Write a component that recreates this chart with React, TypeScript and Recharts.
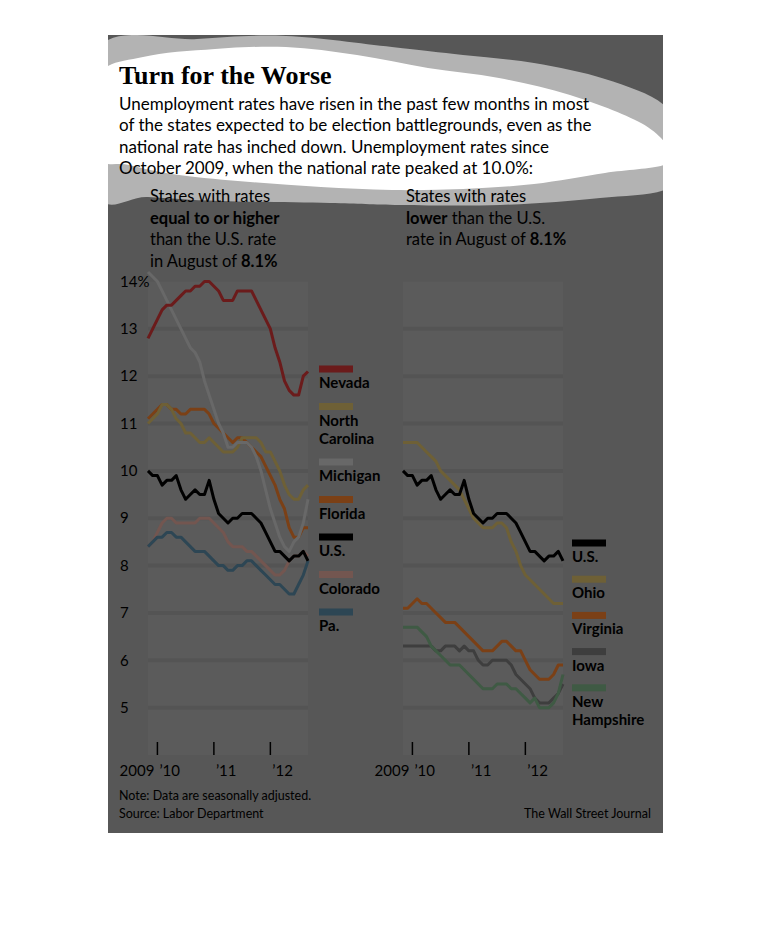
import React from "react";
import { LineChart, Line, XAxis, YAxis, ReferenceArea, ReferenceLine } from "recharts";

// Monthly, seasonally adjusted unemployment rates, Oct 2009 - Aug 2012
const months = [
  "Oct 2009", "Nov 2009", "Dec 2009",
  "Jan 2010", "Feb 2010", "Mar 2010", "Apr 2010", "May 2010", "Jun 2010",
  "Jul 2010", "Aug 2010", "Sep 2010", "Oct 2010", "Nov 2010", "Dec 2010",
  "Jan 2011", "Feb 2011", "Mar 2011", "Apr 2011", "May 2011", "Jun 2011",
  "Jul 2011", "Aug 2011", "Sep 2011", "Oct 2011", "Nov 2011", "Dec 2011",
  "Jan 2012", "Feb 2012", "Mar 2012", "Apr 2012", "May 2012", "Jun 2012",
  "Jul 2012", "Aug 2012",
];

const nevada = [12.8, 13.0, 13.2, 13.4, 13.5, 13.5, 13.6, 13.7, 13.8, 13.8, 13.9, 13.9, 14.0, 14.0, 13.9, 13.8, 13.6, 13.6, 13.6, 13.8, 13.8, 13.8, 13.8, 13.6, 13.4, 13.2, 13.0, 12.6, 12.3, 11.9, 11.7, 11.6, 11.6, 12.0, 12.1];
const northCarolina = [11.0, 11.1, 11.2, 11.4, 11.4, 11.3, 11.1, 11.0, 10.8, 10.8, 10.7, 10.6, 10.6, 10.7, 10.6, 10.5, 10.4, 10.4, 10.4, 10.5, 10.7, 10.7, 10.7, 10.7, 10.6, 10.4, 10.4, 10.2, 10.0, 9.7, 9.5, 9.4, 9.4, 9.6, 9.7];
const michigan = [14.2, 14.1, 14.0, 13.8, 13.6, 13.4, 13.2, 13.0, 12.8, 12.6, 12.5, 12.3, 11.9, 11.6, 11.3, 11.0, 10.8, 10.5, 10.5, 10.6, 10.6, 10.6, 10.5, 10.3, 10.0, 9.6, 9.2, 8.9, 8.6, 8.4, 8.3, 8.5, 8.6, 8.9, 9.4];
const florida = [11.1, 11.2, 11.3, 11.4, 11.4, 11.3, 11.3, 11.2, 11.2, 11.3, 11.3, 11.3, 11.3, 11.2, 11.0, 10.9, 10.8, 10.7, 10.6, 10.7, 10.7, 10.6, 10.5, 10.4, 10.3, 10.1, 9.9, 9.7, 9.4, 9.2, 8.8, 8.6, 8.6, 8.8, 8.8];
const us = [10.0, 9.9, 9.9, 9.7, 9.8, 9.8, 9.9, 9.6, 9.4, 9.5, 9.6, 9.5, 9.5, 9.8, 9.4, 9.1, 9.0, 8.9, 9.0, 9.0, 9.1, 9.1, 9.1, 9.0, 8.9, 8.7, 8.5, 8.3, 8.3, 8.2, 8.1, 8.2, 8.2, 8.3, 8.1];
const colorado = [8.4, 8.5, 8.7, 8.9, 9.0, 9.0, 8.9, 8.9, 8.9, 8.9, 8.9, 9.0, 9.0, 9.0, 8.9, 8.8, 8.7, 8.5, 8.4, 8.4, 8.4, 8.3, 8.3, 8.2, 8.1, 8.0, 7.9, 7.8, 7.8, 7.9, 8.1, 8.2, 8.2, 8.3, 8.2];
const pennsylvania = [8.4, 8.5, 8.6, 8.6, 8.7, 8.7, 8.6, 8.6, 8.5, 8.4, 8.3, 8.3, 8.3, 8.2, 8.1, 8.0, 8.0, 7.9, 7.9, 8.0, 8.0, 8.1, 8.1, 8.0, 7.9, 7.8, 7.7, 7.6, 7.6, 7.5, 7.4, 7.4, 7.6, 7.8, 8.1];
const ohio = [10.6, 10.6, 10.6, 10.6, 10.5, 10.4, 10.3, 10.2, 10.0, 9.9, 9.8, 9.7, 9.6, 9.4, 9.2, 9.0, 8.9, 8.8, 8.8, 8.8, 8.9, 8.9, 8.8, 8.5, 8.3, 8.0, 7.8, 7.7, 7.6, 7.5, 7.4, 7.3, 7.2, 7.2, 7.2];
const virginia = [7.1, 7.1, 7.2, 7.3, 7.2, 7.2, 7.1, 7.0, 6.9, 6.8, 6.8, 6.8, 6.7, 6.6, 6.5, 6.4, 6.3, 6.2, 6.2, 6.2, 6.3, 6.4, 6.4, 6.3, 6.2, 6.2, 6.0, 5.8, 5.7, 5.6, 5.6, 5.6, 5.7, 5.9, 5.9];
const iowa = [6.3, 6.3, 6.3, 6.3, 6.3, 6.3, 6.3, 6.2, 6.2, 6.3, 6.3, 6.3, 6.2, 6.3, 6.2, 6.2, 6.0, 5.9, 5.9, 6.0, 6.0, 6.0, 6.0, 5.9, 5.7, 5.6, 5.5, 5.4, 5.2, 5.1, 5.1, 5.1, 5.2, 5.3, 5.5];
const newHampshire = [6.7, 6.7, 6.7, 6.7, 6.6, 6.5, 6.3, 6.2, 6.1, 6.0, 5.9, 5.9, 5.9, 5.8, 5.7, 5.6, 5.5, 5.4, 5.4, 5.4, 5.5, 5.5, 5.5, 5.4, 5.4, 5.3, 5.2, 5.1, 5.2, 5.0, 5.0, 5.0, 5.1, 5.3, 5.7];

const yTicks = [5, 6, 7, 8, 9, 10, 11, 12, 13, 14];
const gridValues = [5, 6, 7, 8, 9, 10, 11, 12, 13];
const xTickIdx = [2, 14, 26];
const xTickLabels = ["\u201910", "\u201911", "\u201912"];

const rows = months.map((month, i) => ({
  i,
  month,
  nevada: nevada[i],
  northCarolina: northCarolina[i],
  michigan: michigan[i],
  florida: florida[i],
  us: us[i],
  colorado: colorado[i],
  pennsylvania: pennsylvania[i],
  ohio: ohio[i],
  virginia: virginia[i],
  iowa: iowa[i],
  newHampshire: newHampshire[i],
}));

const C = {
  nevada: "#6b1b1b",
  olive: "#6e6036",
  michigan: "#686868",
  orange: "#7b4016",
  us: "#000000",
  colorado: "#735650",
  pa: "#2d4654",
  iowa: "#3e3e3e",
  nh: "#3f5a44",
};

type Series = { key: string; name: string[]; color: string };

// draw order (last on top)
const leftLines: Series[] = [
  { key: "colorado", name: ["Colorado"], color: C.colorado },
  { key: "pennsylvania", name: ["Pa."], color: C.pa },
  { key: "florida", name: ["Florida"], color: C.orange },
  { key: "northCarolina", name: ["North", "Carolina"], color: C.olive },
  { key: "michigan", name: ["Michigan"], color: C.michigan },
  { key: "nevada", name: ["Nevada"], color: C.nevada },
  { key: "us", name: ["U.S."], color: C.us },
];
const leftLegend = ["nevada", "northCarolina", "michigan", "florida", "us", "colorado", "pennsylvania"];

const rightLines: Series[] = [
  { key: "iowa", name: ["Iowa"], color: C.iowa },
  { key: "newHampshire", name: ["New", "Hampshire"], color: C.nh },
  { key: "virginia", name: ["Virginia"], color: C.orange },
  { key: "ohio", name: ["Ohio"], color: C.olive },
  { key: "us", name: ["U.S."], color: C.us },
];
const rightLegend = ["us", "ohio", "virginia", "iowa", "newHampshire"];

const SANS = "Lato, 'Noto Sans', sans-serif";

function smoothPath(pts: number[][]) {
  const n = pts.length;
  let d = `M${pts[0][0]},${pts[0][1]}`;
  for (let k = 0; k < n; k++) {
    const p0 = pts[(k - 1 + n) % n];
    const p1 = pts[k];
    const p2 = pts[(k + 1) % n];
    const p3 = pts[(k + 2) % n];
    const c1 = [p1[0] + (p2[0] - p0[0]) / 6, p1[1] + (p2[1] - p0[1]) / 6];
    const c2 = [p2[0] - (p3[0] - p1[0]) / 6, p2[1] - (p3[1] - p1[1]) / 6];
    d += ` C${c1[0]},${c1[1]} ${c2[0]},${c2[1]} ${p2[0]},${p2[1]}`;
  }
  return d + " Z";
}

// highlight blob behind the headline (card coordinates)
const blobOuter = [
  [-10, 14], [89, 4], [178, 1], [284, 12], [355, 20], [426, 28], [497, 44], [556, 70],
  [570, 110], [562, 152], [492, 163], [392, 170], [292, 170], [222, 168], [112, 166], [40, 162], [-10, 158],
];
const blobInner = [
  [-10, 42], [35, 22], [107, 14], [178, 12], [249, 20], [320, 33], [391, 43], [462, 60],
  [533, 88], [562, 115], [556, 130], [497, 138], [426, 149], [355, 154], [284, 155], [213, 152],
  [142, 147], [71, 140], [21, 130], [-10, 120],
];

const YTick = (props: any) => {
  const { x, y, payload } = props;
  return (
    <text x={x - 28} y={y} dy="0.35em" textAnchor="start" fontFamily={SANS} fontSize={15} fill="#000">
      {payload.value === 14 ? "14%" : payload.value}
    </text>
  );
};

const XTick = (props: any) => {
  const { x, y, payload } = props;
  const idx = xTickIdx.indexOf(payload.value);
  return (
    <g>
      <line x1={x} x2={x} y1={y - 13} y2={y} stroke="#000" strokeWidth={1.5} />
      {idx === 0 && (
        <text x={x - 3} y={y + 21} textAnchor="end" fontFamily={SANS} fontSize={15} fill="#000">
          2009
        </text>
      )}
      <text x={x + 2} y={y + 21} textAnchor="start" fontFamily={SANS} fontSize={15} fill="#000">
        {xTickLabels[idx]}
      </text>
    </g>
  );
};

function Panel({ lines, showY }: { lines: Series[]; showY: boolean }) {
  return (
    <LineChart
      width={260}
      height={523}
      data={rows}
      margin={{ top: 5, right: 60, bottom: 5, left: showY ? 0 : 40 }}
    >
      <XAxis
        type="number"
        dataKey="i"
        domain={[0, 34]}
        ticks={xTickIdx}
        interval={0}
        height={30}
        axisLine={false}
        tickLine={false}
        tickSize={0}
        tickMargin={0}
        tick={<XTick />}
      />
      <YAxis
        type="number"
        domain={[4, 14.2]}
        ticks={yTicks}
        interval={0}
        width={40}
        hide={!showY}
        axisLine={false}
        tickLine={false}
        tickSize={0}
        tickMargin={0}
        tick={<YTick />}
      />
      <ReferenceArea y1={4} y2={14} fill="#5b5b5b" fillOpacity={1} stroke="none" />
      {gridValues.map((v) => (
        <ReferenceLine key={v} y={v} stroke="#545454" strokeWidth={4} />
      ))}
      {lines.map((s) => (
        <Line
          key={s.key}
          type="linear"
          dataKey={s.key}
          stroke={s.color}
          strokeWidth={3}
          strokeLinejoin="round"
          dot={false}
          activeDot={false}
          isAnimationActive={false}
        />
      ))}
    </LineChart>
  );
}

function LegendBlock({ lines, order, x, y0, step }: { lines: Series[]; order: string[]; x: number; y0: number; step: number }) {
  let y = y0;
  const items = order.map((key) => {
    const s = lines.find((l) => l.key === key)!;
    const g = (
      <g key={key}>
        <rect x={x} y={y - 3.5} width={34} height={7} fill={s.color} />
        {s.name.map((t, k) => (
          <text key={t} x={x} y={y + 19 + k * 18} fontFamily={SANS} fontWeight={700} fontSize={15} fill="#000">
            {t}
          </text>
        ))}
      </g>
    );
    y += step + (s.name.length - 1) * 18;
    return g;
  });
  return <g>{items}</g>;
}

const body = [
  "Unemployment rates have risen in the past few months in most",
  "of the states expected to be election battlegrounds, even as the",
  "national rate has inched down. Unemployment rates since",
  "October 2009, when the national rate peaked at 10.0%:",
];

export default function App() {
  return (
    <div
      style={{
        position: "absolute",
        left: 108,
        top: 35,
        width: 555,
        height: 798,
        background: "#575757",
        overflow: "hidden",
      }}
    >
      <svg width={555} height={798} style={{ position: "absolute", left: 0, top: 0 }}>
        <path d={smoothPath(blobOuter)} fill="#b3b3b3" />
        <path d={smoothPath(blobInner)} fill="#ffffff" />
      </svg>

      <div style={{ position: "absolute", left: 0, top: 232 }}>
        <Panel lines={leftLines} showY={true} />
      </div>
      <div style={{ position: "absolute", left: 255, top: 232 }}>
        <Panel lines={rightLines} showY={false} />
      </div>

      <svg width={555} height={798} style={{ position: "absolute", left: 0, top: 0, pointerEvents: "none" }}>
        <text x={11} y={49} fontFamily="'Liberation Serif', serif" fontWeight={700} fontSize={26} fill="#000">
          Turn for the Worse
        </text>
        {body.map((t, k) => (
          <text key={k} x={11} y={74.5 + k * 21.5} fontFamily={SANS} fontSize={17} fill="#000">
            {t}
          </text>
        ))}

        <g fontFamily={SANS} fontSize={16.5} fill="#000">
          <text x={42} y={167}>States with rates</text>
          <text x={42} y={188.5} fontWeight={700}>equal to or higher</text>
          <text x={42} y={210}>than the U.S. rate</text>
          <text x={42} y={231.5}>
            in August of <tspan fontWeight={700}>8.1%</tspan>
          </text>

          <text x={298} y={167}>States with rates</text>
          <text x={298} y={188.5}>
            <tspan fontWeight={700}>lower</tspan> than the U.S.
          </text>
          <text x={298} y={210}>
            rate in August of <tspan fontWeight={700}>8.1%</tspan>
          </text>
        </g>

        <LegendBlock lines={leftLines} order={leftLegend} x={211} y0={334} step={37.5} />
        <LegendBlock lines={rightLines} order={rightLegend} x={464} y0={508} step={36.2} />

        <g fontFamily={SANS} fontSize={12.5} fill="#000">
          <text x={11} y={765}>Note: Data are seasonally adjusted.</text>
          <text x={11} y={783}>Source: Labor Department</text>
          <text x={543} y={783} textAnchor="end">The Wall Street Journal</text>
        </g>
      </svg>
    </div>
  );
}
